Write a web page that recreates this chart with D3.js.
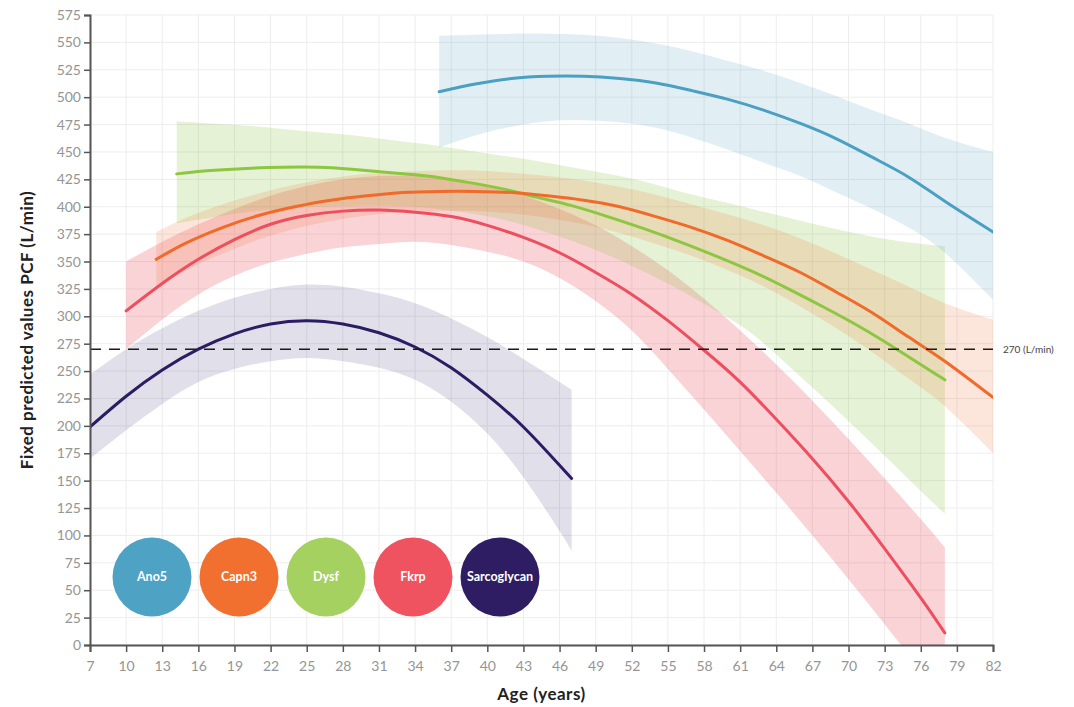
<!DOCTYPE html>
<html><head><meta charset="utf-8">
<script src="https://cdn.jsdelivr.net/npm/d3@7"></script>
<style>
html,body{margin:0;padding:0;background:#fff;}
svg{display:block;font-family:Lato,'Open Sans',sans-serif;}
</style></head><body>
<svg id="chart" width="1074" height="707"></svg>
<script>
// ---- tick labels ----
const ageTicks = [7,10,13,16,19,22,25,28,31,34,37,40,43,46,49,52,55,58,61,64,67,70,73,76,79,82];
const pcfTicks = [0,25,50,75,100,125,150,175,200,225,250,275,300,325,350,375,400,425,450,475,500,525,550,575];
const thresholdValue = 270;
const thresholdLabel = "270 (L/min)";

// ---- groups ----
const groups = ["Ano5","Capn3","Dysf","Fkrp","Sarcoglycan"];
const lineColors = ["#4b9fc2","#f06a2a","#8dc641","#ec4f5e","#2b1c63"];
const legendColors = ["#4ea3c4","#f1702f","#a5d160","#f05360","#2e1d62"];

// ---- Ano5 ----
const ano5Age   = [36,39,42,45,48,51,54,57,60,63,66,69,72,75,78,82];
const ano5Fit   = [505,512,517,519,519,517,513,506,498,488,476,462,445,427,405,377];
const ano5Upper = [556,557,558,558,557,554,549,542,533,524,513,501,488,476,463,450];
const ano5Lower = [454,465,473,478,479,477,472,463,452,440,428,413,398,381,358,315];

// ---- Capn3 ----
const capn3Age   = [12.5,15,18,21,24,27,30,33,36,39,42,45,48,51,54,57,60,63,66,69,72,75,78,82];
const capn3Fit   = [352,367,381,392,400,406,410,413,414,414,413,410,406,400,391,381,369,355,340,322,303,281,259,226];
const capn3Upper = [377,390,402,412,420,426,430,432,433,433,431,428,424,418,411,402,393,383,371,357,342,327,312,297];
const capn3Lower = [325,342,357,370,380,387,392,395,396,396,394,390,384,376,366,355,342,327,309,289,267,243,218,175];

// ---- Dysf ----
const dysfAge   = [14.2,17,20,23,26,29,32,35,38,41,44,47,50,53,56,59,62,65,68,71,74,77,78];
const dysfFit   = [430,433,435,436,436,434,431,428,423,417,409,401,391,380,368,355,341,325,308,290,270,249,242];
const dysfUpper = [478,476,474,471,468,465,461,457,452,447,442,436,430,423,414,406,398,390,382,375,369,365,364];
const dysfLower = [385,390,395,398,400,401,401,399,395,389,380,369,356,341,324,305,284,255,225,194,162,130,120];

// ---- Fkrp ----
const fkrpAge   = [10,13,16,19,22,25,28,31,34,37,40,43,46,49,52,55,58,61,64,67,70,73,76,78];
const fkrpFit   = [305,330,352,370,384,392,396,397,395,391,383,372,358,340,320,296,269,240,206,170,131,88,43,11];
const fkrpUpper = [350,368,384,398,410,419,425,428,428,425,419,410,398,383,364,342,316,287,256,223,188,152,115,89];
const fkrpLower = [270,297,320,337,349,357,363,366,368,365,359,350,335,314,287,252,215,177,139,100,60,19,-23,-52];

// ---- Sarcoglycan ----
const sarcoAge   = [7,10,13,16,19,22,25,28,31,34,37,40,43,46,47];
const sarcoFit   = [199,227,251,270,284,293,296,293,285,272,253,228,199,164,152];
const sarcoUpper = [247,270,289,305,317,325,329,327,321,312,298,281,261,240,233];
const sarcoLower = [170,196,220,240,252,259,262,259,253,242,222,193,153,104,86];

// ---- build table ----
function rows(age, fit, lo, hi){ return age.map((a,i)=>({age:a, fit:fit[i], lo:lo[i], hi:hi[i]})); }
const series = [
  {name:"Sarcoglycan", rows: rows(sarcoAge, sarcoFit, sarcoLower, sarcoUpper), color: lineColors[4], bandOpacity: 0.14},
  {name:"Fkrp",  rows: rows(fkrpAge, fkrpFit, fkrpLower, fkrpUpper), color: lineColors[3], bandOpacity: 0.25},
  {name:"Dysf",  rows: rows(dysfAge, dysfFit, dysfLower, dysfUpper), color: lineColors[2], bandOpacity: 0.22},
  {name:"Capn3", rows: rows(capn3Age, capn3Fit, capn3Lower, capn3Upper), color: lineColors[1], bandOpacity: 0.17},
  {name:"Ano5",  rows: rows(ano5Age, ano5Fit, ano5Lower, ano5Upper), color: lineColors[0], bandOpacity: 0.17}
];

// ---- layout ----
const W = 1074, H = 707;
const M = {left: 90, top: 15, right: 81, bottom: 62};
const svg = d3.select("#chart");
const x = d3.scaleLinear().domain([7, 82]).range([M.left, W - M.right]);
const y = d3.scaleLinear().domain([0, 575]).range([H - M.bottom, M.top]);

svg.append("defs").append("clipPath").attr("id","plotclip")
  .append("rect").attr("x", x(7)).attr("y", y(575)).attr("width", x(82)-x(7)).attr("height", y(0)-y(575));

// grid
const grid = svg.append("g").attr("class","grid");
grid.selectAll("line.v").data(ageTicks).join("line").attr("class","v")
  .attr("x1", d=>x(d)).attr("x2", d=>x(d)).attr("y1", y(0)).attr("y2", y(575))
  .attr("stroke","#ededed").attr("stroke-width",1);
grid.selectAll("line.h").data(pcfTicks).join("line").attr("class","h")
  .attr("x1", x(7)).attr("x2", x(82)).attr("y1", d=>y(d)).attr("y2", d=>y(d))
  .attr("stroke","#ededed").attr("stroke-width",1);

// bands
const plot = svg.append("g").attr("clip-path","url(#plotclip)");
const area = d3.area().x(d=>x(d.age)).y0(d=>y(d.lo)).y1(d=>y(d.hi)).curve(d3.curveNatural);
plot.selectAll("path.band").data(series).join("path").attr("class","band")
  .attr("d", s=>area(s.rows)).attr("fill", s=>s.color).attr("fill-opacity", s=>s.bandOpacity);

// threshold line
svg.append("line").attr("x1", x(7)).attr("x2", x(82)).attr("y1", y(thresholdValue)).attr("y2", y(thresholdValue))
  .attr("stroke","#1a1a1a").attr("stroke-width",1.5).attr("stroke-dasharray","11,8");
svg.append("text").attr("x", x(82)+10).attr("y", y(thresholdValue)+3.5).attr("font-size",10).attr("fill","#444").text(thresholdLabel);

// fitted lines
const line = d3.line().x(d=>x(d.age)).y(d=>y(d.fit)).curve(d3.curveNatural);
plot.selectAll("path.fit").data(series).join("path").attr("class","fit")
  .attr("d", s=>line(s.rows)).attr("fill","none").attr("stroke", s=>s.color)
  .attr("stroke-width",3).attr("stroke-linecap","round");

// axes
const yAxis = svg.append("g").attr("transform",`translate(${x(7)},0)`)
  .call(d3.axisLeft(y).tickValues(pcfTicks).tickSize(6).tickPadding(3).tickFormat(d3.format("d")));
const xAxis = svg.append("g").attr("transform",`translate(0,${y(0)})`)
  .call(d3.axisBottom(x).tickValues(ageTicks).tickSize(7).tickPadding(9).tickFormat(d3.format("d")));
[yAxis, xAxis].forEach(g=>{
  g.select(".domain").attr("stroke","#555").attr("stroke-width",2);
  g.selectAll(".tick line").attr("stroke","#555").attr("stroke-width",1.5);
  g.selectAll(".tick text").attr("fill","#959595").attr("font-size",14).attr("font-family","Lato, sans-serif");
});

// axis titles
svg.append("text").attr("transform",`translate(33,${(y(0)+y(575))/2}) rotate(-90)`)
  .attr("text-anchor","middle").attr("font-weight","bold").attr("font-size",17).attr("letter-spacing",0.5).attr("fill","#222")
  .text("Fixed predicted values PCF (L/min)");
svg.append("text").attr("x",(x(7)+x(82))/2).attr("y",700).attr("text-anchor","middle")
  .attr("font-weight","bold").attr("font-size",17).attr("letter-spacing",0.5).attr("fill","#222").text("Age (years)");

// legend
const legend = svg.append("g").attr("transform","translate(152,577)");
const lg = legend.selectAll("g").data(groups).join("g").attr("transform",(d,i)=>`translate(${i*87},0)`);
lg.append("circle").attr("r",39.5).attr("fill",(d,i)=>legendColors[i]);
lg.append("text").attr("text-anchor","middle").attr("dy","0.35em").attr("fill","#fff")
  .attr("font-weight","bold").attr("font-size",12.5).text(d=>d);
</script>
</body></html>
